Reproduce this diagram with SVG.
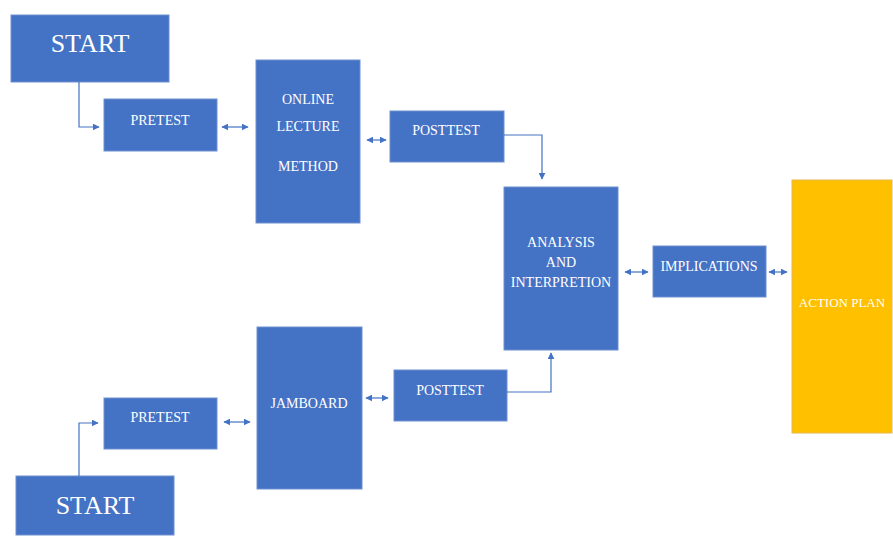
<svg xmlns="http://www.w3.org/2000/svg" width="893" height="536" viewBox="0 0 893 536">
<style>
.b{fill:#4472C4;stroke:#6f8fd0;stroke-width:1}
.y{fill:#FFC000;stroke:#e8b84a;stroke-width:1}
.t{fill:#fff;font-family:"Liberation Serif","Times New Roman",serif;text-anchor:middle}
.s{font-size:14px}
.l{font-size:26px}
.c{fill:none;stroke:#4472C4;stroke-width:1.2}
</style>
<defs>
<marker id="ah" viewBox="0 0 10 10" refX="9" refY="5" markerWidth="7" markerHeight="7" orient="auto-start-reverse" markerUnits="userSpaceOnUse"><path d="M0,0 L10,5 L0,10 z" fill="#4472C4"/></marker>
</defs>
<g id="start1"><rect class="b" x="11" y="15" width="158" height="67"/><text class="t l" x="90" y="52">START</text></g>
<g id="pretest1"><rect class="b" x="104" y="99" width="113" height="52"/><text class="t s" x="160" y="125">PRETEST</text></g>
<g id="online"><rect class="b" x="256" y="60" width="104" height="163"/><text class="t s" x="308" y="104">ONLINE</text><text class="t s" x="308" y="131">LECTURE</text><text class="t s" x="308" y="171">METHOD</text></g>
<g id="posttest1"><rect class="b" x="390" y="111" width="114" height="51"/><text class="t s" x="446" y="135">POSTTEST</text></g>
<g id="analysis"><rect class="b" x="504" y="187" width="114" height="163"/><text class="t s" x="561" y="247">ANALYSIS</text><text class="t s" x="561" y="267">AND</text><text class="t s" x="561" y="287">INTERPRETION</text></g>
<g id="implications"><rect class="b" x="653" y="246" width="113" height="51"/><text class="t s" x="709" y="271">IMPLICATIONS</text></g>
<g id="actionplan"><rect class="y" x="792" y="180" width="100" height="253"/><text class="t" x="842" y="307" style="font-size:13px">ACTION PLAN</text></g>
<g id="pretest2"><rect class="b" x="104" y="398" width="113" height="51"/><text class="t s" x="160" y="422">PRETEST</text></g>
<g id="jamboard"><rect class="b" x="257" y="327" width="105" height="162"/><text class="t s" x="309" y="408">JAMBOARD</text></g>
<g id="posttest2"><rect class="b" x="394" y="370" width="113" height="51"/><text class="t s" x="450" y="395">POSTTEST</text></g>
<g id="start2"><rect class="b" x="16" y="476" width="158" height="59"/><text class="t l" x="95" y="514">START</text></g>
<g id="connectors">
<path class="c" d="M79,82 V127 H99" marker-end="url(#ah)"/>
<path class="c" d="M222,127 H248" marker-start="url(#ah)" marker-end="url(#ah)"/>
<path class="c" d="M367,140 H386" marker-start="url(#ah)" marker-end="url(#ah)"/>
<path class="c" d="M504,135 H542 V179" marker-end="url(#ah)"/>
<path class="c" d="M625,272 H648" marker-start="url(#ah)" marker-end="url(#ah)"/>
<path class="c" d="M769,272 H787" marker-start="url(#ah)" marker-end="url(#ah)"/>
<path class="c" d="M79,476 V423 H98" marker-end="url(#ah)"/>
<path class="c" d="M224,422 H250" marker-start="url(#ah)" marker-end="url(#ah)"/>
<path class="c" d="M366,398 H388" marker-start="url(#ah)" marker-end="url(#ah)"/>
<path class="c" d="M507,392 H551 V353" marker-end="url(#ah)"/>
</g>
</svg>
